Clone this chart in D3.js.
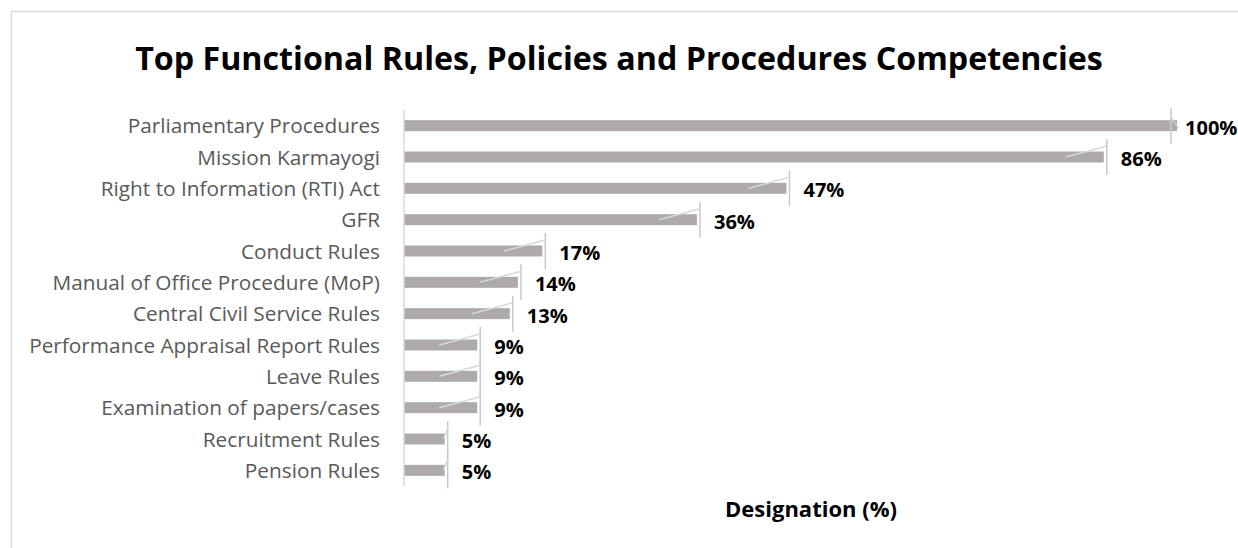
<!DOCTYPE html>
<html>
<head>
<meta charset="utf-8">
<script src="https://cdn.jsdelivr.net/npm/d3@7"></script>
<style>
  html, body { margin: 0; padding: 0; background: #ffffff; }
  svg { display: block; }
  text { font-family: "Open Sans", "Noto Sans", sans-serif; }
</style>
</head>
<body>
<svg id="chart" width="1238" height="548"></svg>
<script>
// ---- data ----
const title = "Top Functional Rules, Policies and Procedures Competencies";
const axisTitle = "Designation (%)";
const categories = [
  "Parliamentary Procedures",
  "Mission Karmayogi",
  "Right to Information (RTI) Act",
  "GFR",
  "Conduct Rules",
  "Manual of Office Procedure (MoP)",
  "Central Civil Service Rules",
  "Performance Appraisal Report Rules",
  "Leave Rules",
  "Examination of papers/cases",
  "Recruitment Rules",
  "Pension Rules"
];
const values = [100, 86, 47, 36, 17, 14, 13, 9, 9, 9, 5, 5];
const axisMax = 95; // visible extent of the value axis; the top bar runs past it and is clipped

// ---- layout ----
const W = 1238, H = 548;
const plot = { left: 404, right: 1177, top: 110, bottom: 486 };

const svg = d3.select("#chart");

// chart frame (cut by the viewport at right/bottom)
svg.append("rect")
  .attr("x", 11.5).attr("y", 11.5)
  .attr("width", W + 20).attr("height", H + 20)
  .attr("fill", "#ffffff")
  .attr("stroke", "#d9d9d9").attr("stroke-width", 1.5);

const x = d3.scaleLinear().domain([0, axisMax]).range([plot.left, plot.right]);
const y = d3.scaleBand().domain(categories).range([plot.top, plot.bottom])
  .paddingInner(0.65).paddingOuter(0.325);

// helper: fit font size so that a text's width matches a target
function fit(sel, target) {
  const node = sel.node();
  const fs = parseFloat(sel.attr("font-size"));
  const w = node.getComputedTextLength();
  sel.attr("font-size", (fs * target / w).toFixed(2));
}

// title
const t = svg.append("text")
  .attr("x", 619).attr("y", 70)
  .attr("text-anchor", "middle")
  .attr("font-size", 28).attr("font-weight", 700)
  .attr("fill", "#000000")
  .text(title);
fit(t, 968);

// clip for bars
svg.append("clipPath").attr("id", "plotClip")
  .append("rect")
  .attr("x", plot.left).attr("y", plot.top)
  .attr("width", plot.right - plot.left).attr("height", plot.bottom - plot.top);

// bars
svg.append("g").attr("clip-path", "url(#plotClip)")
  .selectAll("rect").data(values).join("rect")
  .attr("x", x(0))
  .attr("y", (d, i) => y(categories[i]))
  .attr("width", d => x(d) - x(0))
  .attr("height", y.bandwidth())
  .attr("fill", "#aeaaaa");

// category axis
const yAxis = svg.append("g")
  .attr("transform", `translate(${plot.left},0)`)
  .call(d3.axisLeft(y).tickSize(0).tickPadding(24));
yAxis.select(".domain").attr("stroke", "#d9d9d9").attr("stroke-width", 1.5)
  .attr("d", `M0,${plot.top}V${plot.bottom}`);
yAxis.selectAll(".tick text")
  .attr("fill", "#595959")
  .attr("font-size", 17.5)
  .attr("dy", "0.36em")
  .style("font-family", '"Open Sans", sans-serif');
// fit category label size to longest label width
{
  let maxW = 0;
  yAxis.selectAll(".tick text").each(function () {
    const w = this.getComputedTextLength();
    if (w > maxW) { maxW = w; }
  });
  const fs = 17.5 * 351 / maxW;
  yAxis.selectAll(".tick text").attr("font-size", fs.toFixed(2));
}

// data labels with leader lines
const lab = svg.append("g");
values.forEach((v, i) => {
  const cy = y(categories[i]) + y.bandwidth() / 2;
  const rawEnd = x(v);
  const clipped = rawEnd > plot.right;
  const barEnd = Math.min(rawEnd, plot.right);
  const vx = clipped ? plot.right - 6 : barEnd + 3;
  const stroke = "#c9c9c9";
  // vertical leader segment
  lab.append("line")
    .attr("x1", vx).attr("x2", vx)
    .attr("y1", cy - 18).attr("y2", cy + 18)
    .attr("stroke", stroke).attr("stroke-width", 1.5);
  // slanted leader segment
  if (clipped) {
    lab.append("line")
      .attr("x1", vx).attr("y1", cy - 8)
      .attr("x2", plot.right + 1).attr("y2", cy + 2)
      .attr("stroke", stroke).attr("stroke-width", 1.5);
  } else {
    const sx = (barEnd - 38 > plot.left + 5) ? barEnd - 38 : barEnd - 1;
    lab.append("line")
      .attr("x1", sx).attr("y1", cy)
      .attr("x2", vx).attr("y2", cy - 11)
      .attr("stroke", "#d9d9d9").attr("stroke-width", 1.5);
  }
  lab.append("text")
    .attr("class", "vlab")
    .attr("x", vx + 14)
    .attr("y", cy + 2)
    .attr("dy", "0.35em")
    .attr("font-size", 18)
    .attr("font-weight", 700)
    .attr("fill", "#000000")
    .text(v + "%");
});
// fit value-label size so "86%" ≈ 41px
{
  const n = lab.selectAll(".vlab").nodes()[1];
  const w = n.getComputedTextLength();
  lab.selectAll(".vlab").attr("font-size", (18 * 41 / w).toFixed(2));
}

// value-axis title
const at = svg.append("text")
  .attr("x", 811).attr("y", 517)
  .attr("text-anchor", "middle")
  .attr("font-size", 17).attr("font-weight", 700)
  .attr("fill", "#000000")
  .text(axisTitle);
fit(at, 172);
</script>
</body>
</html>
